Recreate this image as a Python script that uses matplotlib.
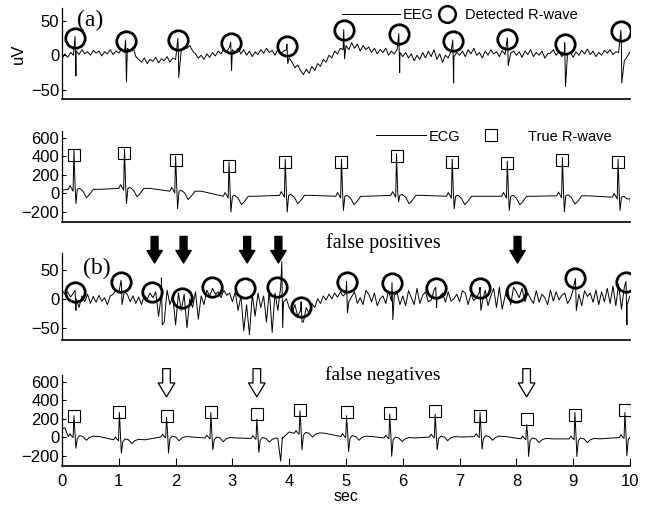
import matplotlib
matplotlib.use('Agg')
import matplotlib.pyplot as plt
from matplotlib.lines import Line2D
import numpy as np

# ---------------- data ----------------
# EEG (a), one value every 0.05 s from 0 to 10 s (uV)
eeg_a = [-5, 2, -3, 4, 0, 6, 1, 8, 2, 5, 0, 7, 3, 6, -1, 5, 2, 8, 1, 6,
         3, 9, 4, 10, 6, 12, -2, -6, -10, -4, -12, -6, -9, -3, -11, -5, -8, -2, -10, -4,
         -6, 0, 8, 12, 10, 14, 6, 2, -4, 0, -6, 2, -3, 4, -1, 6, 2, 9, 5, 12,
         8, 4, 10, 2, 8, 0, 6, -2, 5, 1, 8, 3, 10, 4, 7, 0, 9, 2, 6, 8,
         -4, -10, -18, -14, -22, -28, -20, -26, -16, -22, -12, -16, -6, -10, 0, -4, 6, 2, 10, 8,
         14, 8, 18, 10, 16, 6, 14, 8, 12, 4, 10, 2, 8, 4, 10, 0, 6, 2, 8, 4,
         -2, 4, -4, 2, -8, 0, -6, 4, -4, 6, -2, 8, -6, 2, -10, 0, -4, 6, -2, 4,
         0, 6, -2, 8, 2, 10, 0, 4, -4, 6, 0, 8, 2, 5, -2, 7, 1, 9, 3, 6,
         0, 5, -3, 6, 1, 8, -2, 4, 0, 6, -4, 2, 3, 8, 0, 5, -2, 6, 2, 4,
         -3, 5, 0, 7, 2, 9, 1, 6, -2, 4, 0, 7, 3, 8, 1, 5, 4, 10, -8, -2,
         5]
# R-wave artefact spikes in EEG (a)
spk_a_t = [0.23, 1.12, 2.04, 2.97, 3.96, 4.96, 5.93, 6.88, 7.84, 8.85, 9.84]
spk_a_hi = [27, 22, 24, 19, 16, 37, 31, 22, 25, 18, 36]
spk_a_lo = [-30, -38, -32, -22, -12, -5, -25, -40, -15, -45, -40]
# detected R-waves (circles) in (a)
det_a_t = [0.23, 1.12, 2.04, 2.97, 3.96, 4.96, 5.93, 6.88, 7.84, 8.85, 9.84]
det_a_y = [25, 20, 22, 17, 14, 36, 30, 20, 23, 16, 35]

# ECG (a): beat times, R peak, S trough, baseline per beat
ecg_a_t = [0.21, 1.10, 2.00, 2.94, 3.93, 4.92, 5.89, 6.87, 7.84, 8.81, 9.79]
ecg_a_r = [470, 480, 400, 340, 370, 370, 430, 370, 350, 390, 370]
ecg_a_s = [-109, -109, -164, -200, -200, -182, -91, -164, -182, -200, -182]
ecg_a_base = [45, 55, 25, -30, -20, -30, -20, -30, -30, -25, -40]
ecg_a_ends = [(0.0, 36), (10.0, -55)]
true_a_y = [420, 436, 364, 302, 338, 345, 400, 345, 327, 364, 345]

# EEG (b), one value every 0.05 s
eeg_b = [15, 8, 12, 3, 10, 0, -15, 5, -5, 8, -8, 4, -6, 6, -4, 2, -10, 5, 8, 15,
         10, 20, 12, 8, -5, 5, -8, 3, -10, 6, 0, 10, 2, 12, -30, 8, -40, 15, -10, 5,
         -45, 10, -20, 8, -50, 0, -15, 12, -35, 5, -10, 15, 5, 18, 8, 12, 2, 15, 6, 10,
         -5, 12, -20, 5, -55, -10, -62, 8, -30, 10, -15, 5, -40, 15, -58, 10, -20, 20, -5, 0,
         -15, -25, -10, -30, -20, -40, -15, -25, -8, -15, 0, -8, 5, -2, 8, 0, 10, 3, 12, 5,
         10, -5, 4, 12, -8, 2, -10, 15, 8, -5, 10, -12, 0, 5, -8, 14, -4, 6, 10, -10,
         5, -12, 14, 2, -10, 18, -8, 6, 12, -5, -2, 15, -2, 4, 10, -6, 12, -4, 0, 8,
         -5, 14, 10, -10, 8, -3, 2, 12, -6, 15, -12, 5, 18, -15, 20, -18, 5, 15, -10, 20,
         12, 2, 18, -5, 10, 0, -8, 14, -6, 8, 2, -10, 15, -4, 12, -2, 6, 10, -8, 0,
         16, -6, 8, -12, 14, 4, 10, -6, 15, -10, 12, -5, 18, -8, 22, -12, 25, -18, 20, -10,
         5]
spk_b_t = [0.23, 1.04, 1.75, 3.87, 4.21, 5.01, 5.81, 6.58, 7.36, 9.04, 9.93]
spk_b_hi = [15, 32, 36, 64, -5, 30, 28, 20, 20, 35, 30]
spk_b_lo = [-20, -10, -45, -50, -40, -24, -36, -15, -20, -20, -45]
det_b_t = [0.23, 1.04, 1.59, 2.12, 2.64, 3.22, 3.79, 4.21, 5.01, 5.81, 6.58, 7.36, 8.00, 9.04, 9.93]
det_b_y = [12, 29, 12, 2, 21, 19, 21, -14, 29, 27, 19, 19, 12, 36, 29]
false_pos_t = [1.63, 2.14, 3.26, 3.81, 8.02]

# ECG (b)
ecg_b_t = [0.21, 1.01, 1.84, 2.62, 3.43, 4.19, 5.01, 5.77, 6.57, 7.36, 8.18, 9.03, 9.91]
ecg_b_r = [235, 270, 218, 270, 200, 288, 235, 253, 253, 270, 140, 270, 270]
ecg_b_s = [-116, -168, -168, -133, -161, -133, -151, -204, -133, -126, -204, -204, -196]
ecg_b_base = [10, -25, 5, -5, -10, 45, 10, -5, 5, 10, -15, -15, 0]
ecg_b_ends = [(0.0, 95), (0.05, 105), (3.80, -10), (3.85, -256), (3.88, 0), (4.0, 60), (10.0, 0)]
true_b_y = [228, 277, 235, 270, 253, 295, 277, 260, 288, 235, 200, 246, 295]
false_neg_t = [1.84, 3.43, 8.18]

# beat shape (offsets from R in s, values relative to baseline; None = R / S)
beat_off = [-0.10, -0.07, -0.04, -0.015, 0.0, 0.02, 0.035, 0.06, 0.10, 0.16, 0.22, 0.27, 0.34, 0.45]
shape_a = [0, 40, 10, -20, None, 40, None, 0, 10, -20, -90, -60, 0, 0]
shape_b = [0, 30, 5, -10, None, 30, None, -20, 10, 0, -40, -10, 5, 0]


def eeg_trace(vals, st, hi, lo):
    t = list(np.arange(len(vals)) * 0.05)
    v = list(vals)
    for a, b, c in zip(st, hi, lo):
        t += [a, a + 0.015]
        v += [b, c]
    order = np.argsort(t, kind='stable')
    return np.array(t)[order], np.array(v)[order]


def ecg_trace(bt, r, s, base, shape, ends):
    t, v = [], []
    for i in range(len(bt)):
        for off, sh in zip(beat_off, shape):
            t.append(bt[i] + off)
            if off == 0.0:
                v.append(r[i])
            elif off == 0.035:
                v.append(s[i])
            else:
                v.append(base[i] + sh)
    for a, b in ends:
        t.append(a)
        v.append(b)
    order = np.argsort(t, kind='stable')
    return np.array(t)[order], np.array(v)[order]


fig = plt.figure(figsize=(6.5, 5.09), dpi=100)
L, W = 62 / 650, 568 / 650
ax1 = fig.add_axes([L, 1 - 99 / 509, W, 91 / 509])
ax2 = fig.add_axes([L, 1 - 222 / 509, W, 91 / 509])
ax3 = fig.add_axes([L, 1 - 340 / 509, W, 87 / 509])
ax4 = fig.add_axes([L, 1 - 466 / 509, W, 91 / 509])

for ax in (ax1, ax2, ax3, ax4):
    ax.set_xlim(0, 10)
    for sp in ('top', 'right'):
        ax.spines[sp].set_visible(False)
    ax.spines['left'].set_linewidth(0.9)
    ax.spines['bottom'].set_linewidth(1.2)
    ax.tick_params(axis='y', direction='in', length=3, width=0.8, pad=2)
    ax.tick_params(axis='x', direction='in', length=6, width=0.8)

for ax in (ax1, ax2, ax3):
    ax.set_xticks([])

# panel (a) EEG
t, v = eeg_trace(eeg_a, spk_a_t, spk_a_hi, spk_a_lo)
ax1.plot(t, v, color='black', lw=0.7)
ax1.plot(det_a_t, det_a_y, 'o', ms=14, mfc='none', mec='black', mew=2)
ax1.set_ylim(-63, 68)
ax1.set_yticks([-50, 0, 50])
ax1.set_ylabel('uV', fontsize=12, family='Liberation Sans', labelpad=4)
ax1.text(0.5, 50, '(a)', fontsize=17, family='Liberation Serif', ha='center', va='center')
lg1 = ax1.legend([Line2D([], [], color='black', lw=0.7)], ['EEG'], loc='upper left',
                 bbox_to_anchor=(0.47, 1.145), frameon=False, handlelength=4.0,
                 handletextpad=0.15, prop=dict(family='Liberation Sans', size=10.5))
ax1.add_artist(lg1)
ax1.legend([Line2D([], [], ls='none', marker='o', ms=12, mfc='none', mec='black', mew=1.8)],
           ['Detected R-wave'], loc='upper left', bbox_to_anchor=(0.642, 1.145), frameon=False,
           handlelength=1.0, handletextpad=0.75, prop=dict(family='Liberation Sans', size=10.5))

# panel (a) ECG
t, v = ecg_trace(ecg_a_t, ecg_a_r, ecg_a_s, ecg_a_base, shape_a, ecg_a_ends)
ax2.plot(t, v, color='black', lw=0.7)
ax2.plot(ecg_a_t, true_a_y, 's', ms=9, mfc='none', mec='black', mew=0.8)
ax2.set_ylim(-308, 675)
ax2.set_yticks([-200, 0, 200, 400, 600])
lg2 = ax2.legend([Line2D([], [], color='black', lw=0.7)], ['ECG'], loc='upper left',
                 bbox_to_anchor=(0.53, 1.16), frameon=False, handlelength=3.4,
                 handletextpad=0.2, prop=dict(family='Liberation Sans', size=10.5))
ax2.add_artist(lg2)
ax2.legend([Line2D([], [], ls='none', marker='s', ms=9, mfc='none', mec='black', mew=0.8)],
           ['True R-wave'], loc='upper left', bbox_to_anchor=(0.72, 1.16), frameon=False,
           handlelength=1.0, handletextpad=2.0, prop=dict(family='Liberation Sans', size=10.5))

# panel (b) EEG
t, v = eeg_trace(eeg_b, spk_b_t, spk_b_hi, spk_b_lo)
ax3.plot(t, v, color='black', lw=0.7)
ax3.plot(det_b_t, det_b_y, 'o', ms=14, mfc='none', mec='black', mew=2)
ax3.set_ylim(-71, 79)
ax3.set_yticks([-50, 0, 50])
ax3.text(0.62, 53, '(b)', fontsize=17, family='Liberation Serif', ha='center', va='center')
ax3.text(5.65, 1.115, 'false positives', transform=ax3.get_xaxis_transform(),
         fontsize=14.5, family='Liberation Serif', ha='center', va='center')
for x in false_pos_t:
    ax3.annotate('', xy=(x, 0.885), xytext=(x, 1.19), xycoords=('data', 'axes fraction'),
                 textcoords=('data', 'axes fraction'), annotation_clip=False,
                 arrowprops=dict(arrowstyle='simple,head_width=11,head_length=9,tail_width=5',
                                 mutation_scale=1, fc='black', ec='black', shrinkA=0, shrinkB=0))

# panel (b) ECG
t, v = ecg_trace(ecg_b_t, ecg_b_r, ecg_b_s, ecg_b_base, shape_b, ecg_b_ends)
ax4.plot(t, v, color='black', lw=0.7)
ax4.plot(ecg_b_t, true_b_y, 's', ms=9, mfc='none', mec='black', mew=0.8)
ax4.set_ylim(-308, 675)
ax4.set_yticks([-200, 0, 200, 400, 600])
ax4.set_xticks(range(11))
ax4.tick_params(axis='x', labelsize=12, pad=6)
ax4.set_xlabel('sec', fontsize=11.5, family='Liberation Sans', labelpad=0)
ax4.text(5.65, 1.0, 'false negatives', transform=ax4.get_xaxis_transform(),
         fontsize=14, family='Liberation Serif', ha='center', va='center')
for x in false_neg_t:
    ax4.annotate('', xy=(x, 0.76), xytext=(x, 1.07), xycoords=('data', 'axes fraction'),
                 textcoords=('data', 'axes fraction'), annotation_clip=False,
                 arrowprops=dict(arrowstyle='simple,head_width=12,head_length=10,tail_width=5.5',
                                 mutation_scale=1, fc='white', ec='black', lw=0.9,
                                 shrinkA=0, shrinkB=0))

for ax in (ax1, ax2, ax3, ax4):
    ax.tick_params(axis='y', labelsize=12)
    for lab in ax.get_yticklabels() + ax.get_xticklabels():
        lab.set_fontfamily('Liberation Sans')

fig.savefig('out.png', dpi=100, facecolor='white')
